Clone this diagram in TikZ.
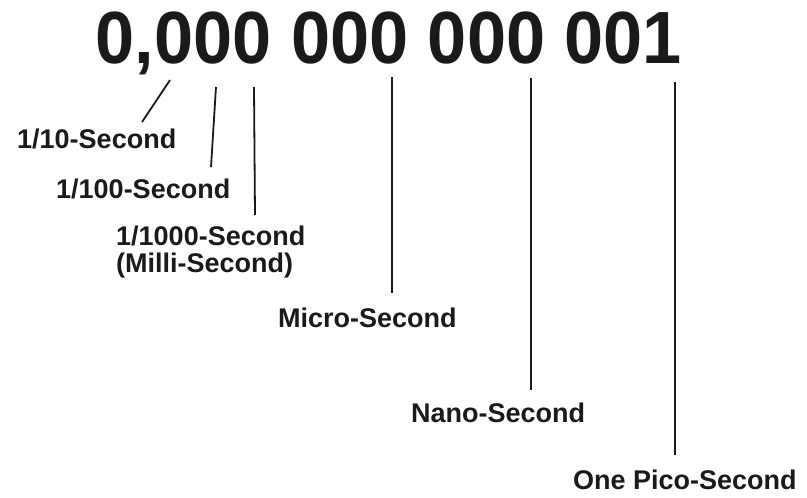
\documentclass[tikz,border=0pt]{standalone}
\usepackage{fontspec}
\setmainfont{Liberation Sans}
\definecolor{ink}{HTML}{1A1A1A}
\begin{document}
\begin{tikzpicture}[x=1pt,y=-1pt,
  lbl/.style={font=\fontsize{27}{27}\selectfont\bfseries, text=ink, inner sep=0pt, anchor=base west},
  tick/.style={draw=ink, line width=1.8pt}]
\useasboundingbox (0,0) rectangle (807,498);
\node[inner sep=0pt, anchor=base, text=ink, font=\fontsize{74}{74}\selectfont\bfseries, xscale=0.95] (num) at (389,63) {0,000 000 000 001};
% labels
\node[lbl] (l10) at (17,148) {1/10-Second};
\node[lbl] (l100) at (56,198) {1/100-Second};
\node[lbl, align=left, anchor=north west, font=\fontsize{27}{27}\selectfont\bfseries] (l1000) at (116,225.5) {1/1000-Second\\(Milli-Second)};
\node[lbl] (lmicro) at (278,327) {Micro-Second};
\node[lbl] (lnano) at (411,422) {Nano-Second};
\node[lbl] (lpico) at (573,489) {One Pico-Second};
% connector ends
\coordinate (a1) at (170,80);  \coordinate (b1) at (142,122);
\coordinate (a2) at (216,87);  \coordinate (b2) at (211,167);
\coordinate (a3) at (254,87);  \coordinate (b3) at (255,215);
\coordinate (a4) at (392,77);  \coordinate (b4) at (392,293);
\coordinate (a5) at (531,78);  \coordinate (b5) at (531,390);
\coordinate (a6) at (675,82);  \coordinate (b6) at (675,455);
\draw[tick] (a1) -- (b1);
\draw[tick] (a2) -- (b2);
\draw[tick] (a3) -- (b3);
\draw[tick] (a4) -- (b4);
\draw[tick] (a5) -- (b5);
\draw[tick] (a6) -- (b6);
\end{tikzpicture}
\end{document}
